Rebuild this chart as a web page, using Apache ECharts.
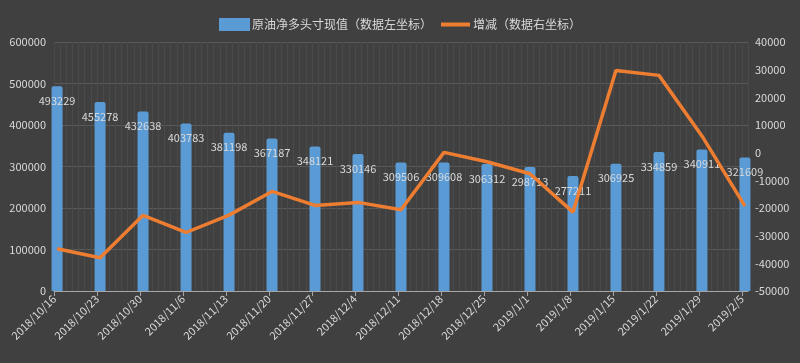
<!DOCTYPE html>
<html><head><meta charset="utf-8">
<script src="https://cdn.jsdelivr.net/npm/echarts@6/dist/echarts.min.js"></script>
<style>html,body{margin:0;padding:0;background:#404040;}#c{width:800px;height:363px;}</style>
</head><body><div id="c"></div>
<script>
const dates = ['2018/10/16','2018/10/23','2018/10/30','2018/11/6','2018/11/13','2018/11/20','2018/11/27','2018/12/4','2018/12/11','2018/12/18','2018/12/25','2019/1/1','2019/1/8','2019/1/15','2019/1/22','2019/1/29','2019/2/5'];
const netLong = [493229,455278,432638,403783,381198,367187,348121,330146,309506,309608,306312,298713,277211,306925,334859,340911,321609];
const change = [-34700,-37951,-22640,-28855,-22585,-14011,-19066,-17975,-20640,102,-3296,-7599,-21502,29714,27934,6052,-19302];
const leftTicks = [0,100000,200000,300000,400000,500000,600000];
const rightTicks = [-50000,-40000,-30000,-20000,-10000,0,10000,20000,30000,40000];
const seriesNames = ['原油净多头寸现值（数据左坐标）','增减（数据右坐标）'];

function toUTC(s){const p=s.split('/').map(Number);return Date.UTC(p[0],p[1]-1,p[2]);}
const DAY=86400000, t0=toUTC(dates[0]);
const dayIdx = dates.map(d=>Math.round((toUTC(d)-t0)/DAY));
const lastDay = dayIdx[dayIdx.length-1]+1;
const labelMap = {}; dayIdx.forEach((d,i)=>labelMap[d]=dates[i]);

const txt = '#d9d9d9';
const font = '"Noto Sans CJK SC","Noto Sans",sans-serif';
const lineIcon = 'path://M0,0L0,0Z M0,13L0,13Z M0,4.5L29,4.5L29,8.5L0,8.5Z';
const chart = echarts.init(document.getElementById('c'));
chart.setOption({
  backgroundColor:'#404040',
  animation:false,
  textStyle:{fontFamily:font},
  legend:{
    top:13, left:'center', itemWidth:31, itemHeight:13, itemGap:9,
    textStyle:{color:txt,fontSize:12,fontFamily:font,padding:[0,0,0,-3]},
    data:[{name:seriesNames[0],icon:'rect'},{name:seriesNames[1],icon:lineIcon,itemStyle:{color:'#ed7d31'}}]
  },
  grid:{left:54,right:52,top:42,bottom:72},
  xAxis:[{
    type:'value', min:0, max:lastDay, position:'bottom',
    axisLine:{show:true,lineStyle:{color:'#a6a6a6',width:1}},
    axisTick:{show:true,length:5,customValues:dayIdx,lineStyle:{color:'#a6a6a6'}},
    axisLabel:{customValues:dayIdx,rotate:45,margin:6,color:txt,fontSize:11,fontFamily:font,
      formatter:v=>labelMap[Math.round(v)]||''},
    splitLine:{show:false}
  },{
    type:'value', min:0, max:lastDay, interval:1, position:'bottom',
    axisLine:{show:false}, axisTick:{show:false}, axisLabel:{show:false},
    splitLine:{show:true,lineStyle:{color:'#4a4a4a',width:1}}
  }],
  yAxis:[{
    type:'value', min:leftTicks[0], max:leftTicks[leftTicks.length-1], interval:leftTicks[1]-leftTicks[0],
    axisLine:{show:false}, axisTick:{show:false},
    axisLabel:{color:txt,fontSize:11,fontFamily:font,margin:8,formatter:v=>String(v)},
    splitLine:{show:true,lineStyle:{color:'#5a5a5a',width:1}}
  },{
    type:'value', min:rightTicks[0], max:rightTicks[rightTicks.length-1], interval:rightTicks[1]-rightTicks[0],
    axisLine:{show:false}, axisTick:{show:false},
    axisLabel:{color:txt,fontSize:11,fontFamily:font,margin:7,formatter:v=>String(v)},
    splitLine:{show:false}
  }],
  series:[{
    name:seriesNames[0], type:'bar', xAxisIndex:0, yAxisIndex:0, barWidth:11,
    itemStyle:{color:'#5b9bd5',borderRadius:[2,2,0,0]},
    label:{show:true,position:'insideTop',distance:9,color:txt,fontSize:11,fontFamily:font},
    labelLayout:{hideOverlap:false},
    data:netLong.map((v,i)=>({value:[dayIdx[i]+0.5,v],label:{formatter:String(v)}})),
    z:2
  },{
    name:seriesNames[1], type:'line', xAxisIndex:0, yAxisIndex:1,
    symbol:'none', showSymbol:false,
    lineStyle:{color:'#ed7d31',width:3.5}, itemStyle:{color:'#ed7d31'},
    data:change.map((v,i)=>[dayIdx[i]+0.5,v]),
    z:3
  }]
});
</script></body></html>
